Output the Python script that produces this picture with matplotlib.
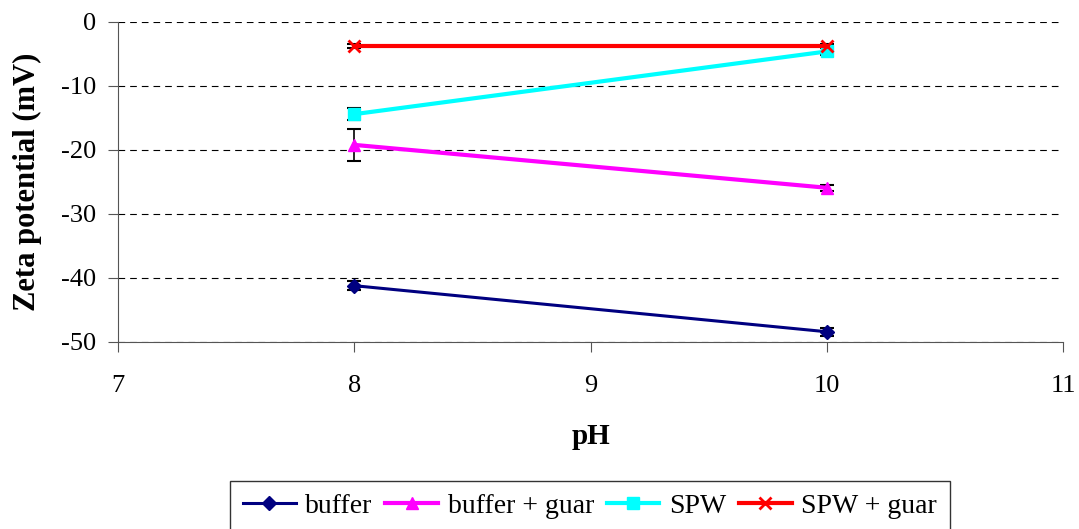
import matplotlib.pyplot as plt
import numpy as np

plt.rcParams['font.family'] = ['Liberation Serif', 'DejaVu Serif']
plt.rcParams['axes.unicode_minus'] = False

ph = [8, 10]
buffer = [-41.2, -48.4]
buffer_err = [0.7, 0.6]
buffer_guar = [-19.2, -25.9]
buffer_guar_err = [2.5, 0.5]
spw = [-14.4, -4.6]
spw_err = [0.9, 0.6]
spw_guar = [-3.8, -3.8]
spw_guar_err = [0.3, 0.3]

series = [
    ("buffer", buffer, buffer_err, "#000080", "D", 2.2, 7),
    ("buffer + guar", buffer_guar, buffer_guar_err, "#FF00FF", "^", 3.0, 9),
    ("SPW", spw, spw_err, "#00FFFF", "s", 3.0, 8),
    ("SPW + guar", spw_guar, spw_guar_err, "#FF0000", "x", 3.0, 8),
]

fig = plt.figure(figsize=(10.79, 5.29), dpi=100)
ax = fig.add_axes([118/1079, 1-342/529, (1063-118)/1079, (342-22)/529])

for lab, y, e, c, m, lw, ms in series:
    ax.errorbar(ph, y, yerr=e, fmt='none', ecolor='black', elinewidth=1.2, capsize=5, capthick=1.5, zorder=2)
    ax.plot(ph, y, color=c, marker=m, lw=lw, ms=ms, mew=2 if m == 'x' else 1, label=lab, zorder=3)

ax.set_xlim(7, 11)
ax.set_ylim(-50, 0)
ax.set_xticks([7, 8, 9, 10, 11])
ax.set_yticks(np.arange(-50, 1, 10))
ax.yaxis.grid(True, linestyle=(0, (6, 4.5)), color='black', lw=0.8)
ax.set_axisbelow(True)
for s in ['top', 'right']:
    ax.spines[s].set_visible(False)
ax.spines['left'].set_color('#555555')
ax.spines['bottom'].set_color('#555555')
ax.tick_params(labelsize=19, direction='out', length=7.5, color='#555555')
ax.tick_params(axis='x', pad=16)
ax.tick_params(axis='y', pad=8)
ax.set_xlabel("pH", fontsize=21, fontweight='bold', labelpad=19)
ax.set_ylabel("Zeta potential (mV)", fontsize=22, fontweight='bold', labelpad=14)

leg = fig.legend(loc='upper center', bbox_to_anchor=(590/1079, 1-481/529), ncol=4, fontsize=20,
                 frameon=True, fancybox=False, edgecolor='black', handlelength=1.9,
                 columnspacing=0.45, handletextpad=0.35, borderpad=0.45, borderaxespad=0)
leg.get_frame().set_linewidth(1.0)

fig.savefig("out.png", dpi=100)
